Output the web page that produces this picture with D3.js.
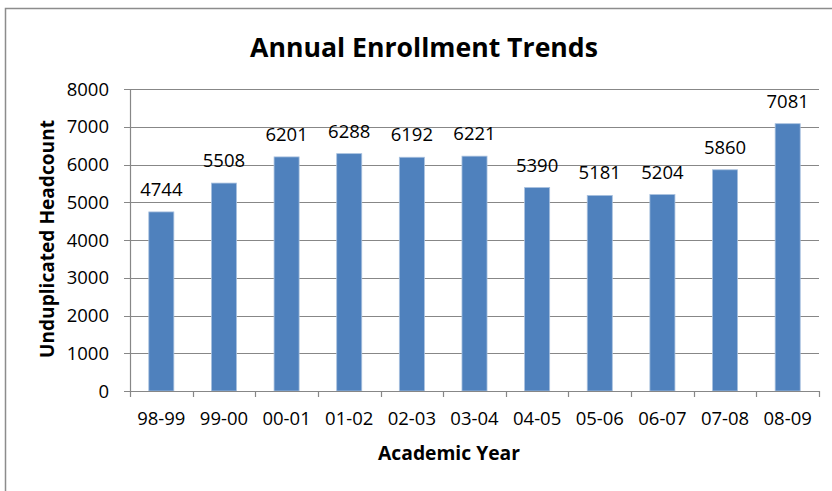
<!DOCTYPE html>
<html>
<head>
<meta charset="utf-8">
<script src="https://cdn.jsdelivr.net/npm/d3@7"></script>
<style>
  html, body { margin: 0; padding: 0; background: #fff; }
  svg { display: block; }
  text { font-family: "Open Sans", "DejaVu Sans", sans-serif; fill: #000; }
</style>
</head>
<body>
<svg id="chart" width="832" height="491"></svg>
<script>
const categories = ["98-99","99-00","00-01","01-02","02-03","03-04","04-05","05-06","06-07","07-08","08-09"];
const values = [4744, 5508, 6201, 6288, 6192, 6221, 5390, 5181, 5204, 5860, 7081];
const yTicks = [0, 1000, 2000, 3000, 4000, 5000, 6000, 7000, 8000];
const titleText = "Annual Enrollment Trends";
const xTitle = "Academic Year";
const yTitle = "Unduplicated Headcount";

const W = 832, H = 491;
const plot = { left: 130, right: 819, top: 89, bottom: 391 };
const gridColor = "#878787";
const barColor = "#4F81BD";

const svg = d3.select("#chart");

// outer frame (right and bottom edges fall outside the view)
svg.append("rect")
  .attr("x", 5.5).attr("y", 8.5)
  .attr("width", 1000).attr("height", 1000)
  .attr("fill", "none").attr("stroke", "#8c8c8c").attr("stroke-width", 1.5);

const x = d3.scaleBand().domain(categories).range([plot.left, plot.right]).padding(0);
const y = d3.scaleLinear().domain([0, 8000]).range([plot.bottom, plot.top]);

// gridlines with left tick marks
svg.append("g").selectAll("line").data(yTicks).join("line")
  .attr("x1", plot.left - 6).attr("x2", plot.right)
  .attr("y1", d => Math.round(y(d)) + 0.5).attr("y2", d => Math.round(y(d)) + 0.5)
  .attr("stroke", gridColor).attr("stroke-width", 1.2);

// y axis line
svg.append("line")
  .attr("x1", plot.left + 0.5).attr("x2", plot.left + 0.5)
  .attr("y1", plot.top).attr("y2", plot.bottom)
  .attr("stroke", gridColor).attr("stroke-width", 1.2);

// y tick labels
svg.append("g").selectAll("text").data(yTicks).join("text")
  .attr("x", 109).attr("y", d => y(d)).attr("dy", "0.36em")
  .attr("text-anchor", "end").style("font-size", "18.5px")
  .text(d => d);

// bars
const barW = x.bandwidth() * 0.4;
svg.append("g").selectAll("rect").data(values).join("rect")
  .attr("x", (d, i) => x(categories[i]) + (x.bandwidth() - barW) / 2)
  .attr("width", barW)
  .attr("y", d => y(d))
  .attr("height", d => y(0) - y(d))
  .attr("fill", barColor)
  .attr("stroke", "#a9c1df").attr("stroke-width", 0.8);

// x axis line and ticks at band edges
svg.append("line")
  .attr("x1", plot.left).attr("x2", plot.right)
  .attr("y1", plot.bottom + 0.5).attr("y2", plot.bottom + 0.5)
  .attr("stroke", gridColor).attr("stroke-width", 1.2);
const edges = categories.map(c => x(c)).concat([plot.right]);
svg.append("g").selectAll("line").data(edges).join("line")
  .attr("x1", d => Math.round(d) + 0.5).attr("x2", d => Math.round(d) + 0.5)
  .attr("y1", plot.bottom).attr("y2", plot.bottom + 6)
  .attr("stroke", gridColor).attr("stroke-width", 1.2);

// x tick labels
svg.append("g").selectAll("text").data(categories).join("text")
  .attr("x", d => x(d) + x.bandwidth() / 2).attr("y", 425)
  .attr("text-anchor", "middle").style("font-size", "18.5px")
  .text(d => d);

// value labels
svg.append("g").selectAll("text").data(values).join("text")
  .attr("x", (d, i) => x(categories[i]) + x.bandwidth() / 2)
  .attr("y", d => y(d) - 16)
  .attr("text-anchor", "middle").style("font-size", "18.5px")
  .text(d => d);

// helper: fit font size to a target width
function fit(sel, targetW, base) {
  sel.style("font-size", base + "px");
  const w = sel.node().getComputedTextLength();
  sel.style("font-size", (base * targetW / w).toFixed(2) + "px");
}

const t = svg.append("text")
  .attr("x", 424).attr("y", 57).attr("text-anchor", "middle")
  .style("font-weight", "bold").text(titleText);
fit(t, 348, 28);

const xt = svg.append("text")
  .attr("x", 449).attr("y", 460).attr("text-anchor", "middle")
  .style("font-weight", "bold").text(xTitle);
fit(xt, 142, 18);

const yt = svg.append("text")
  .attr("transform", "translate(54,239) rotate(-90)")
  .attr("text-anchor", "middle")
  .style("font-weight", "bold").text(yTitle);
fit(yt, 238, 18);
</script>
</body>
</html>
